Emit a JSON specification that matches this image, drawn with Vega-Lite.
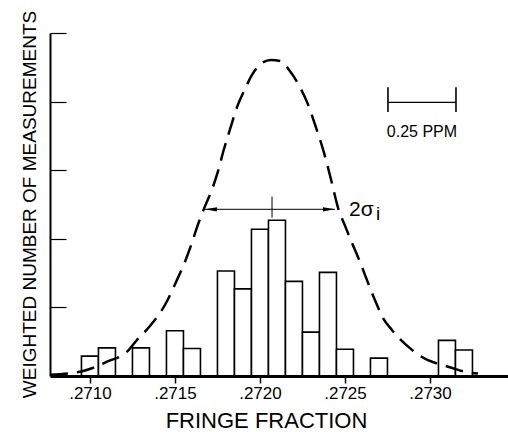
{
  "$schema": "https://vega.github.io/schema/vega-lite/v6.json",
  "width": 458,
  "height": 343,
  "autosize": {"type": "none"},
  "padding": {"left": 50, "top": 33, "right": 0, "bottom": 56},
  "background": "white",
  "config": {"view": {"stroke": null}, "font": "Liberation Sans"},
  "datasets": {
    "bins": [
      {"lo": 0.27095, "hi": 0.27105, "n": 0.29},
      {"lo": 0.27105, "hi": 0.27115, "n": 0.41},
      {"lo": 0.27125, "hi": 0.27135, "n": 0.41},
      {"lo": 0.27145, "hi": 0.27155, "n": 0.66},
      {"lo": 0.27155, "hi": 0.27165, "n": 0.40},
      {"lo": 0.27175, "hi": 0.27185, "n": 1.53},
      {"lo": 0.27185, "hi": 0.27195, "n": 1.27},
      {"lo": 0.27195, "hi": 0.27205, "n": 2.14},
      {"lo": 0.27205, "hi": 0.27215, "n": 2.27},
      {"lo": 0.27215, "hi": 0.27225, "n": 1.38},
      {"lo": 0.27225, "hi": 0.27235, "n": 0.64},
      {"lo": 0.27235, "hi": 0.27245, "n": 1.51},
      {"lo": 0.27245, "hi": 0.27255, "n": 0.39},
      {"lo": 0.27265, "hi": 0.27275, "n": 0.26},
      {"lo": 0.27305, "hi": 0.27315, "n": 0.52},
      {"lo": 0.27315, "hi": 0.27325, "n": 0.38}
    ],
    "curve": [
      {"f": 0.270765, "w": 0.018}, {"f": 0.270882, "w": 0.04}, {"f": 0.270941, "w": 0.061},
      {"f": 0.271012, "w": 0.113}, {"f": 0.2711, "w": 0.208}, {"f": 0.271218, "w": 0.354},
      {"f": 0.271276, "w": 0.523}, {"f": 0.271353, "w": 0.728}, {"f": 0.271441, "w": 1.035},
      {"f": 0.271512, "w": 1.401}, {"f": 0.271559, "w": 1.665}, {"f": 0.2716, "w": 1.943},
      {"f": 0.271635, "w": 2.206}, {"f": 0.271676, "w": 2.47}, {"f": 0.271718, "w": 2.719},
      {"f": 0.271753, "w": 2.982}, {"f": 0.271788, "w": 3.305}, {"f": 0.271824, "w": 3.597},
      {"f": 0.271865, "w": 3.919}, {"f": 0.271912, "w": 4.183}, {"f": 0.271953, "w": 4.388},
      {"f": 0.272012, "w": 4.564}, {"f": 0.272065, "w": 4.608}, {"f": 0.272118, "w": 4.593},
      {"f": 0.272176, "w": 4.447}, {"f": 0.272235, "w": 4.212}, {"f": 0.272282, "w": 3.963},
      {"f": 0.272329, "w": 3.627}, {"f": 0.272376, "w": 3.261}, {"f": 0.272418, "w": 2.865},
      {"f": 0.272459, "w": 2.455}, {"f": 0.2725, "w": 2.192}, {"f": 0.272541, "w": 1.943},
      {"f": 0.272588, "w": 1.665}, {"f": 0.272629, "w": 1.401}, {"f": 0.272676, "w": 1.108},
      {"f": 0.272724, "w": 0.845}, {"f": 0.272776, "w": 0.671}, {"f": 0.272824, "w": 0.537},
      {"f": 0.272882, "w": 0.406}, {"f": 0.272988, "w": 0.23}, {"f": 0.273059, "w": 0.171},
      {"f": 0.273135, "w": 0.113}, {"f": 0.273206, "w": 0.061}, {"f": 0.273282, "w": 0.035}
    ]
  },
  "layer": [
    {
      "data": {"name": "bins"},
      "mark": {"type": "rect", "fill": "white", "stroke": "black", "strokeWidth": 1.6},
      "encoding": {
        "x": {
          "field": "lo", "type": "quantitative",
          "scale": {"domain": [0.270765, 0.273459], "nice": false, "zero": false},
          "axis": {
            "values": [0.271, 0.2715, 0.272, 0.2725, 0.273],
            "labelExpr": "replace(format(datum.value, '.4f'), '0.', '.')",
            "title": "FRINGE FRACTION",
            "titleFont": "Liberation Sans", "titleFontSize": 22, "titleFontWeight": "normal",
            "titleColor": "black", "titleX": 216, "titleY": 51, "titleAlign": "center", "titleBaseline": "alphabetic",
            "labelFontSize": 17, "labelColor": "black", "labelPadding": 2,
            "tickSize": 7, "tickWidth": 1.5, "tickColor": "black",
            "domainWidth": 3, "domainColor": "black", "grid": false, "zindex": 1
          }
        },
        "x2": {"field": "hi"},
        "y": {
          "field": "n", "type": "quantitative",
          "scale": {"domain": [0, 5], "nice": false},
          "axis": {
            "values": [1, 2, 3, 4, 5], "labels": false,
            "title": "WEIGHTED NUMBER OF MEASUREMENTS",
            "titleFont": "Liberation Sans",
            "titleFontSize": 19, "titleFontWeight": "normal", "titleColor": "black",
            "titleX": -15, "titleY": 171, "titleAlign": "center", "titleBaseline": "alphabetic", "titleAngle": -90,
            "tickSize": -16, "tickWidth": 1.2, "tickColor": "black",
            "domainWidth": 2, "domainColor": "black", "grid": false, "zindex": 1
          }
        },
        "y2": {"datum": 0}
      }
    },
    {
      "data": {"name": "curve"},
      "mark": {"type": "line", "stroke": "black", "strokeWidth": 2.5, "strokeDash": [18, 9], "interpolate": "monotone"},
      "encoding": {
        "x": {"field": "f", "type": "quantitative"},
        "y": {"field": "w", "type": "quantitative"}
      }
    },
    {
      "data": {"values": [{}]},
      "mark": {"type": "rule", "stroke": "black", "strokeWidth": 1},
      "encoding": {
        "x": {"datum": 0.271676, "type": "quantitative"},
        "x2": {"datum": 0.272441},
        "y": {"datum": 2.43, "type": "quantitative"}
      }
    },
    {
      "data": {"values": [{}]},
      "mark": {"type": "rule", "stroke": "black", "strokeWidth": 1},
      "encoding": {
        "x": {"datum": 0.272071, "type": "quantitative"},
        "y": {"datum": 2.31, "type": "quantitative"},
        "y2": {"datum": 2.616}
      }
    },
    {
      "data": {"values": [{}]},
      "mark": {"type": "point", "shape": "M-1,0L1,-0.35L1,0.35Z", "size": 144, "filled": true, "color": "black", "opacity": 1},
      "encoding": {
        "x": {"datum": 0.271712, "type": "quantitative"},
        "y": {"datum": 2.43, "type": "quantitative"}
      }
    },
    {
      "data": {"values": [{}]},
      "mark": {"type": "point", "shape": "M1,0L-1,-0.35L-1,0.35Z", "size": 144, "filled": true, "color": "black", "opacity": 1},
      "encoding": {
        "x": {"datum": 0.272406, "type": "quantitative"},
        "y": {"datum": 2.43, "type": "quantitative"}
      }
    },
    {
      "data": {"values": [{}]},
      "mark": {"type": "text", "text": "2σ", "fontSize": 21, "align": "left", "baseline": "alphabetic", "color": "black", "font": "Liberation Sans"},
      "encoding": {
        "x": {"datum": 0.272524, "type": "quantitative"},
        "y": {"datum": 2.328, "type": "quantitative"}
      }
    },
    {
      "data": {"values": [{}]},
      "mark": {"type": "text", "text": "i", "fontSize": 19, "align": "left", "baseline": "alphabetic", "color": "black", "font": "Liberation Sans"},
      "encoding": {
        "x": {"datum": 0.272682, "type": "quantitative"},
        "y": {"datum": 2.28, "type": "quantitative"}
      }
    },
    {
      "data": {"values": [{}]},
      "mark": {"type": "rule", "stroke": "black", "strokeWidth": 1.2},
      "encoding": {
        "x": {"datum": 0.272753, "type": "quantitative"},
        "x2": {"datum": 0.273153},
        "y": {"datum": 3.99, "type": "quantitative"}
      }
    },
    {
      "data": {"values": [{}]},
      "mark": {"type": "rule", "stroke": "black", "strokeWidth": 1.6},
      "encoding": {
        "x": {"datum": 0.272753, "type": "quantitative"},
        "y": {"datum": 3.85, "type": "quantitative"},
        "y2": {"datum": 4.21}
      }
    },
    {
      "data": {"values": [{}]},
      "mark": {"type": "rule", "stroke": "black", "strokeWidth": 1.6},
      "encoding": {
        "x": {"datum": 0.273153, "type": "quantitative"},
        "y": {"datum": 3.85, "type": "quantitative"},
        "y2": {"datum": 4.21}
      }
    },
    {
      "data": {"values": [{}]},
      "mark": {"type": "text", "text": "0.25 PPM", "fontSize": 16, "align": "center", "baseline": "alphabetic", "color": "black", "font": "Liberation Sans"},
      "encoding": {
        "x": {"datum": 0.272953, "type": "quantitative"},
        "y": {"datum": 3.48, "type": "quantitative"}
      }
    }
  ]
}
